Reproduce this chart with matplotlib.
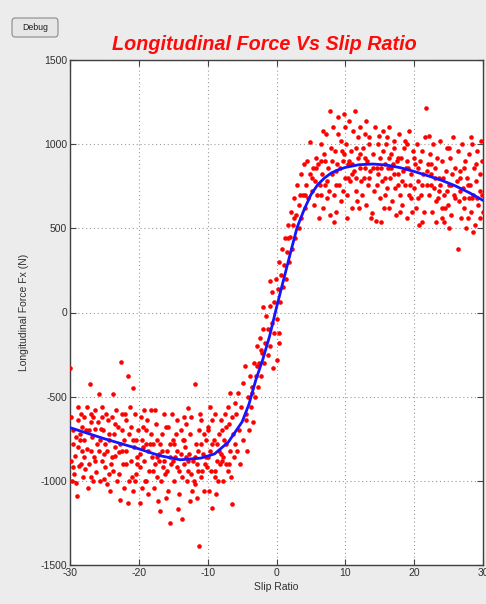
import numpy as np
import matplotlib
matplotlib.use("Agg")
import matplotlib.pyplot as plt
from matplotlib.patches import FancyBboxPatch

plt.rcParams['font.family'] = ['Liberation Sans', 'DejaVu Sans']

# ---------------- data ----------------
title = "Longitudinal Force Vs Slip Ratio"
x_label = "Slip Ratio"
y_label = "Longitudinal Force Fx (N)"
x_ticks = [-30, -20, -10, 0, 10, 20, 30]
y_ticks = [-1500, -1000, -500, 0, 500, 1000, 1500]

# fitted curve (blue)
fit_slip = [-30, -25, -20, -17, -14, -11, -9, -7, -5, -4, -3, -2, -1, 0, 1, 2, 3, 4, 5,
            6, 7, 8, 9, 10, 12, 14, 16, 18, 20, 22, 24, 26, 28, 30]
fit_force = [-684, -750, -810, -850, -875, -865, -840, -770, -650, -545, -400, -280, -140, 30,
             190, 350, 506, 610, 700, 760, 800, 830, 848, 862, 878, 882, 876, 860, 838, 812,
             785, 752, 712, 666]

# measured points (red), negative slip region
left_points = [
    (-30, -330), (-29.8, -620), (-29.6, -700), (-29.5, -780), (-29.3, -850), (-29.1, -1010),
    (-29, -1090), (-28.9, -640), (-28.7, -910), (-28.5, -720), (-28.4, -600), (-28.2, -820),
    (-28.1, -980), (-29.9, -880), (-29.4, -960), (-28.6, -760), (-28.3, -680), (-29.7, -1000),
    (-28.8, -560), (-28, -860),
    (-27.9, -620), (-27.7, -700), (-27.5, -810), (-27.3, -900), (-27.1, -423), (-27, -650),
    (-26.8, -740), (-26.6, -1000), (-26.5, -860), (-26.3, -580), (-26.1, -780), (-27.8, -930),
    (-27.4, -1040), (-26.9, -820), (-26.4, -690), (-26.2, -950), (-27.6, -560), (-26.7, -620),
    (-25.9, -650), (-25.8, -482), (-25.6, -760), (-25.4, -880), (-25.2, -700), (-25, -990),
    (-24.8, -600), (-24.6, -820), (-24.4, -720), (-24.2, -1060), (-24.1, -900), (-25.7, -1000),
    (-25.3, -560), (-24.9, -780), (-24.5, -640), (-25.1, -840), (-24.3, -960), (-25.5, -690),
    (-23.9, -620), (-23.8, -482), (-23.6, -720), (-23.4, -850), (-23.2, -1000), (-23, -680),
    (-22.8, -780), (-22.7, -1115), (-22.6, -297), (-22.5, -600), (-22.3, -900), (-22.1, -760),
    (-23.7, -940), (-23.3, -580), (-22.9, -830), (-22.4, -700), (-22.2, -1040), (-23.5, -800),
    (-21.9, -640), (-21.6, -375), (-21.6, -1130), (-21.4, -720), (-21.2, -880), (-21, -980),
    (-20.9, -446), (-20.7, -800), (-20.5, -600), (-20.3, -900), (-20.1, -700), (-19.9, -1130),
    (-21.8, -820), (-21.3, -560), (-20.8, -1060), (-20.4, -760), (-21.1, -680), (-20.2, -860),
    (-19.7, -620), (-19.5, -760), (-19.3, -880), (-19.1, -1000), (-18.9, -700), (-18.7, -820),
    (-18.5, -940), (-18.3, -580), (-18.1, -860), (-19.8, -920), (-19.4, -680), (-19, -780),
    (-18.6, -1080), (-18.2, -720), (-19.6, -1040), (-18.8, -640),
    (-17.9, -780), (-17.7, -900), (-17.5, -660), (-17.3, -980), (-17.1, -840), (-16.9, -1180),
    (-16.7, -720), (-16.5, -920), (-16.3, -600), (-16.1, -1100), (-17.8, -1040), (-17.4, -760),
    (-17, -880), (-16.6, -820), (-16.2, -960), (-17.6, -580), (-16.8, -1000),
    (-15.9, -820), (-15.7, -680), (-15.5, -1250), (-15.3, -900), (-15.1, -760), (-14.9, -1000),
    (-14.7, -860), (-14.5, -640), (-14.3, -1170), (-14.1, -940), (-15.8, -1060), (-15.4, -780),
    (-15, -880), (-14.6, -720), (-14.2, -1080), (-15.2, -600), (-14.4, -820),
    (-13.8, -1226), (-13.6, -760), (-13.4, -900), (-13.2, -660), (-13, -1000), (-12.9, -565),
    (-12.7, -840), (-12.5, -720), (-12.3, -1060), (-12.1, -880), (-13.7, -980), (-13.3, -800),
    (-12.8, -940), (-12.4, -620), (-13.9, -700), (-12.6, -1120), (-13.1, -860),
    (-11.9, -423), (-11.7, -780), (-11.5, -900), (-11.3, -700), (-11.2, -1386), (-11, -980),
    (-10.9, -640), (-10.7, -840), (-10.5, -1060), (-10.3, -760), (-10.1, -920), (-11.8, -1020),
    (-11.4, -820), (-11.1, -600), (-10.6, -720), (-10.2, -860), (-11.6, -1100), (-10.8, -940),
    (-9.9, -700), (-9.7, -820), (-9.5, -940), (-9.3, -1160), (-9.1, -760), (-8.9, -600),
    (-8.7, -880), (-8.5, -1000), (-8.3, -720), (-8.1, -840), (-9.8, -1060), (-9.4, -640),
    (-9, -980), (-8.6, -780), (-8.2, -900), (-9.6, -560), (-8.8, -1080),
    (-7.9, -700), (-7.7, -860), (-7.5, -600), (-7.3, -780), (-7.1, -940), (-6.9, -660),
    (-6.7, -820), (-6.5, -1136), (-6.3, -720), (-6.1, -540), (-7.8, -1000), (-7.4, -900),
    (-7, -560), (-6.6, -980), (-6.2, -860), (-7.6, -760), (-6.8, -480),
    (-29.2, -740), (-28.9, -800), (-28.4, -900), (-27.9, -760), (-27.2, -700), (-26.9, -600),
    (-26.3, -880), (-25.8, -820), (-25.4, -620), (-24.9, -920), (-24.3, -760), (-23.9, -860),
    (-23.4, -660), (-22.9, -960), (-22.4, -820), (-21.9, -900), (-21.4, -1000), (-20.9, -760),
    (-20.4, -960), (-19.9, -840), (-19.4, -800), (-18.9, -1000), (-18.4, -780), (-17.9, -940),
    (-17.4, -860), (-16.9, -780), (-16.4, -880), (-15.9, -940), (-15.4, -860), (-14.9, -780),
    (-14.4, -920), (-13.9, -840), (-13.4, -760), (-12.9, -880), (-12.4, -960), (-11.9, -860),
    (-11.4, -940), (-10.9, -780), (-10.4, -900), (-9.9, -860), (-9.4, -780), (-8.9, -940),
    (-8.4, -820), (-7.9, -880), (-7.4, -680), (-6.9, -900), (-6.4, -620), (-6.0, -780),
    (-29.6, -920), (-27.0, -980), (-24.6, -1020), (-22.0, -600), (-19.2, -580), (-16.0, -680),
    (-13.5, -620), (-10.0, -680), (-8.0, -640), (-12.0, -1000), (-17.2, -1120), (-20.6, -1000),
]

# measured points (red), transition region
mid_points = [
    (-5.9, -600), (-5.8, -820), (-5.6, -480), (-5.5, -700), (-5.3, -900), (-5.1, -560),
    (-4.9, -760), (-4.8, -420), (-4.6, -315), (-4.5, -640), (-4.3, -820), (-4.1, -500),
    (-4, -700), (-3.9, -380), (-3.7, -560), (-3.5, -440), (-3.4, -650), (-3.2, -300),
    (-3.1, -500), (-3, -380), (-2.8, -200), (-2.7, -440), (-2.5, -300), (-2.4, -150),
    (-2.2, -380), (-2.1, -240), (-1.9, -100), (-1.8, -300), (-1.6, -180), (-1.5, -20),
    (-1.3, -250), (-1.2, -100), (-1, 40), (-0.9, -200), (-0.7, -60), (-0.6, 120),
    (-0.4, -120), (-0.3, 60), (-0.1, 200), (0, -40), (0.2, 140), (0.3, 300), (0.5, 60),
    (0.6, 220), (0.8, 380), (0.9, 150), (1.1, 280), (1.2, 440), (1.4, 200), (1.5, 360),
    (1.7, 520), (1.8, 300), (2, 450), (2.1, 600), (2.3, 380), (2.4, 520), (2.6, 680),
    (2.7, 440), (2.9, 580), (3, 760), (3.2, 500), (3.3, 640), (3.5, 820), (3.6, 560),
    (3.8, 700), (4, 880), (4.1, 620), (4.3, 760), (4.5, 900), (4.6, 680), (4.8, 820),
    (4.9, 1011), (5.1, 720), (5.3, 860), (5.5, 640), (5.6, 780), (5.8, 920), (5.9, 700),
    (0.1, -280), (0.4, -180), (-0.5, -330), (0.3, -120), (-2, 30), (-1, 190),
    (-4.4, -600), (-3.6, -480), (-2.9, -320), (-2.3, -220), (1.6, 440), (2.5, 560),
    (3.4, 700), (4.2, 700), (5.2, 800), (5.7, 860),
]

# measured points (red), positive slip region
right_points = [
    (6.1, 880), (6.2, 560), (6.4, 1000), (6.5, 700), (6.6, 820), (6.8, 620), (6.9, 940),
    (7, 760), (7.2, 1060), (7.3, 680), (7.5, 860), (7.7, 1200), (7.8, 580), (7.9, 980),
    (6.3, 760), (7.1, 900), (7.6, 720), (6.7, 1080),
    (8.1, 820), (8.2, 1100), (8.4, 700), (8.5, 960), (8.7, 600), (8.8, 880), (9, 1160),
    (9.1, 760), (9.3, 1020), (9.4, 660), (9.6, 900), (9.8, 1180), (9.9, 800), (8.3, 540),
    (8.9, 1060), (9.5, 960), (9.7, 720), (8.6, 840),
    (10.1, 1000), (10.2, 700), (10.4, 880), (10.5, 1140), (10.7, 780), (10.8, 960), (11, 620),
    (11.1, 1080), (11.3, 840), (11.4, 1200), (11.6, 720), (11.8, 920), (11.9, 1040),
    (10.3, 560), (10.9, 820), (11.5, 980), (11.7, 660), (10.6, 900),
    (12.1, 860), (12.2, 1100), (12.4, 700), (12.5, 980), (12.7, 800), (12.8, 1060), (13, 640),
    (13.1, 900), (13.3, 760), (13.4, 1000), (13.6, 840), (13.7, 560), (13.9, 590), (14, 940),
    (14.2, 720), (14.5, 546), (14.3, 1100), (12.9, 920), (13.5, 1040), (12.3, 780),
    (14.6, 860), (14.8, 1000), (15, 680), (15.1, 920), (15.3, 780), (15.4, 1080), (15.6, 620),
    (15.7, 880), (15.9, 1000), (16, 740), (14.7, 820), (15.2, 540), (15.5, 960), (15.8, 700),
    (14.9, 1050), (16.2, 860),
    (16.3, 1100), (16.5, 800), (16.6, 940), (16.8, 660), (16.9, 880), (17.1, 1020), (17.2, 740),
    (17.4, 580), (17.5, 900), (17.7, 820), (17.8, 1060), (18, 700), (16.4, 620), (17, 980),
    (17.6, 760), (16.7, 860),
    (18.1, 920), (18.3, 640), (18.4, 840), (18.6, 1020), (18.7, 760), (18.9, 560), (19, 900),
    (19.2, 700), (19.3, 1080), (19.5, 820), (19.7, 600), (19.8, 960), (20, 740), (18.5, 980),
    (19.1, 860), (19.6, 680),
    (20.1, 880), (20.3, 620), (20.4, 1000), (20.6, 780), (20.7, 520), (20.9, 900), (21, 700),
    (21.2, 960), (21.3, 820), (21.5, 600), (21.7, 1214), (21.8, 760), (22, 880), (20.5, 680),
    (21.1, 540), (21.6, 1040),
    (22.1, 700), (22.3, 940), (22.4, 820), (22.6, 600), (22.7, 1000), (22.9, 740), (23, 860),
    (23.2, 540), (23.3, 920), (23.5, 680), (23.6, 800), (23.8, 1020), (24, 620), (22.5, 880),
    (23.1, 660), (23.7, 760),
    (24.1, 900), (24.3, 700), (24.4, 540), (24.6, 840), (24.7, 980), (24.9, 640), (25, 760),
    (25.2, 920), (25.3, 580), (25.5, 820), (25.6, 1040), (25.8, 700), (26, 860), (24.5, 620),
    (25.1, 500), (26.2, 780),
    (26.3, 960), (26.4, 380), (26.5, 660), (26.7, 840), (26.8, 560), (27, 1000), (27.1, 740),
    (27.3, 620), (27.4, 900), (27.6, 500), (27.7, 800), (27.9, 680), (28, 940), (26.6, 720),
    (27.2, 860), (27.8, 560),
    (28.1, 760), (28.3, 600), (28.4, 1000), (28.6, 700), (28.7, 860), (28.9, 520), (29, 780),
    (29.2, 960), (29.3, 640), (29.5, 820), (29.6, 560), (29.8, 900), (29.9, 700), (28.5, 480),
    (29.1, 680), (29.7, 1020),
    (6.5, 900), (7.4, 780), (8.0, 900), (8.6, 760), (9.2, 860), (9.8, 940), (10.4, 800),
    (11.0, 880), (11.6, 800), (12.2, 940), (12.8, 860), (13.4, 800), (14.0, 860), (14.6, 760),
    (15.2, 860), (15.8, 800), (16.4, 920), (17.0, 820), (17.6, 920), (18.2, 780), (18.8, 860),
    (19.4, 760), (20.0, 920), (20.6, 860), (21.2, 760), (21.8, 840), (22.4, 760), (23.0, 800),
    (23.6, 720), (24.2, 800), (24.8, 720), (25.4, 760), (26.0, 680), (26.6, 800), (27.2, 680),
    (27.8, 760), (28.4, 680), (29.0, 880), (29.6, 720), (30, 600),
    (10.0, 1100), (13.0, 1140), (16.0, 1040), (19.0, 1000), (22.2, 1050), (25.0, 980),
    (28.2, 1040), (12.0, 620), (18.0, 600), (24.0, 560),
]

# ---------------- drawing ----------------
W, H = 486, 604
fig = plt.figure(figsize=(W / 100, H / 100), dpi=100, facecolor='#ececec')
ax = fig.add_axes([70 / W, 1 - 565 / H, (483 - 70) / W, (565 - 60) / H])
ax.set_facecolor('white')

pts = np.array(left_points + mid_points + right_points, dtype=float)
ax.plot(pts[:, 0], pts[:, 1], linestyle='none', marker='o', ms=3.3, mew=0,
        color='#ff0000', zorder=3)
ax.plot(fit_slip, fit_force, color='#1515ff', lw=2.0, zorder=4)

ax.set_xlim(-30, 30)
ax.set_ylim(-1500, 1500)
ax.set_xticks(x_ticks)
ax.set_yticks(y_ticks)
ax.set_xticklabels([str(v) for v in x_ticks])
ax.set_yticklabels([str(v) for v in y_ticks])
ax.grid(True, color='#9a9a9a', linestyle=(0, (1, 2.5)), linewidth=0.8, zorder=1)
ax.tick_params(direction='in', length=4, width=0.8, color='#444444',
               labelsize=7.5, labelcolor='#303030', top=True, right=True, pad=2)
for s in ax.spines.values():
    s.set_color('#404040')
    s.set_linewidth(1.0)

ax.set_xlabel(x_label, fontsize=7.5, color='#303030', labelpad=3)
ax.set_ylabel(y_label, fontsize=7.5, color='#303030', labelpad=8)

fig.text(264 / W, 1 - 44 / H, title, ha='center', va='center', fontsize=14.2,
         fontweight='bold', fontstyle='italic', color='#ff0a0a')

# "Debug" button
btn = FancyBboxPatch((12 / W, 1 - 37 / H), 46 / W, 19 / H,
                     boxstyle='round,pad=0,rounding_size=0.006',
                     transform=fig.transFigure, facecolor='#e6e6e6',
                     edgecolor='#8a8a8a', linewidth=0.8)
fig.patches.append(btn)
fig.text(35 / W, 1 - 27.5 / H, "Debug", ha='center', va='center', fontsize=6.3,
         color='#202020')

fig.savefig('out.png', dpi=100, facecolor=fig.get_facecolor())
